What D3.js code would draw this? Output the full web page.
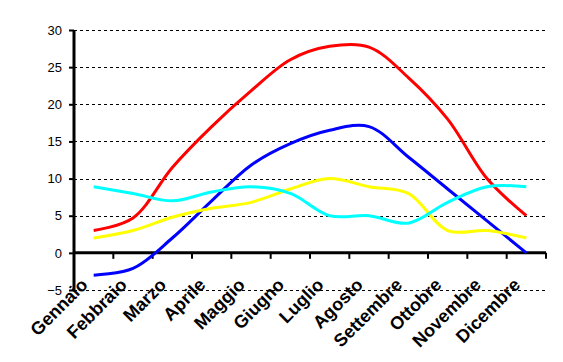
<!DOCTYPE html>
<html>
<head>
<meta charset="utf-8">
<script src="https://cdn.jsdelivr.net/npm/d3@7"></script>
<style>
  body { margin: 0; background: #fff; }
</style>
</head>
<body>
<div id="chart"></div>
<script>
const months = ["Gennaio", "Febbraio", "Marzo", "Aprile", "Maggio", "Giugno",
  "Luglio", "Agosto", "Settembre", "Ottobre", "Novembre", "Dicembre"];

const redValues    = [3, 4.7, 11.5, 17, 21.8, 26, 27.8, 27.7, 23.6, 18, 10, 5];
const blueValues   = [-3, -2.1, 2, 7, 11.8, 14.7, 16.5, 17, 12.9, 8.6, 4.3, 0];
const yellowValues = [2, 3, 4.8, 6, 6.8, 8.6, 10, 8.9, 8, 3, 3, 2];
const cyanValues   = [8.9, 8, 7, 8.2, 8.9, 8, 5, 5, 4, 6.8, 8.9, 8.9];

const yTicks = [-5, 0, 5, 10, 15, 20, 25, 30];

const series = [
  {values: redValues, color: "#ff0000"},
  {values: blueValues, color: "#0000ff"},
  {values: yellowValues, color: "#ffff00"},
  {values: cyanValues, color: "#00ffff"}
];

const W = 563, H = 362;
const margin = {top: 30, right: 17, bottom: 72, left: 74};
const width = W - margin.left - margin.right, height = H - margin.top - margin.bottom;

const svg = d3.select("#chart").append("svg")
  .attr("width", W).attr("height", H)
  .append("g")
  .attr("transform", `translate(${margin.left}, ${margin.top})`);

const xScale = d3.scaleBand().domain(months).range([0, width]);
const yScale = d3.scaleLinear().domain([-5, 30]).range([height, 0]);

// dashed gridlines
svg.append("g").selectAll("line")
  .data(yTicks.filter(d => d !== 0))
  .join("line")
  .attr("x1", 0).attr("x2", width)
  .attr("y1", d => yScale(d) + 0.5).attr("y2", d => yScale(d) + 0.5)
  .attr("stroke", "#000").attr("stroke-width", 1)
  .attr("shape-rendering", "crispEdges")
  .attr("stroke-dasharray", "3,3");

// y axis
const yAxis = d3.axisLeft(yScale).tickValues(yTicks).tickSize(5).tickPadding(7);
const gy = svg.append("g").attr("class", "y-axis").call(yAxis);
gy.select(".domain").remove();
gy.selectAll(".tick line").attr("stroke-width", 2);
gy.selectAll("text").style("font-family", "Arial, 'Liberation Sans', sans-serif")
  .style("font-size", "13px").attr("fill", "#000");
svg.append("line")
  .attr("x1", 0).attr("x2", 0).attr("y1", yScale(30)).attr("y2", yScale(-5))
  .attr("stroke", "#000").attr("stroke-width", 3);

// x axis at zero
const boundaries = months.map(m => xScale(m)).concat([width]);
const gx = svg.append("g").attr("class", "x-axis")
  .attr("transform", `translate(0, ${yScale(0)})`);
gx.selectAll("line.tk").data(boundaries.slice(1)).join("line")
  .attr("class", "tk")
  .attr("x1", d => d).attr("x2", d => d).attr("y1", 0).attr("y2", 6)
  .attr("stroke", "#000").attr("stroke-width", 2);
gx.append("line").attr("x1", 0).attr("x2", width).attr("y1", 0).attr("y2", 0)
  .attr("stroke", "#000").attr("stroke-width", 3);

// lines
const line = d3.line()
  .x((d, i) => xScale(months[i]) + xScale.bandwidth() / 2)
  .y(d => yScale(d))
  .curve(d3.curveCatmullRom.alpha(0.5));

svg.append("g").selectAll("path")
  .data(series)
  .join("path")
  .attr("fill", "none")
  .attr("stroke", d => d.color)
  .attr("stroke-width", 3)
  .attr("d", d => line(d.values));

// month labels
svg.append("g").selectAll("text")
  .data(months)
  .join("text")
  .attr("transform", d => `translate(${xScale(d) + xScale.bandwidth() / 2 - 5}, ${yScale(-5) - 4}) rotate(-45)`)
  .attr("text-anchor", "end")
  .style("font-family", "Arial, 'Liberation Sans', sans-serif")
  .style("font-size", "18px").style("font-weight", "bold")
  .text(d => d);
</script>
</body>
</html>
